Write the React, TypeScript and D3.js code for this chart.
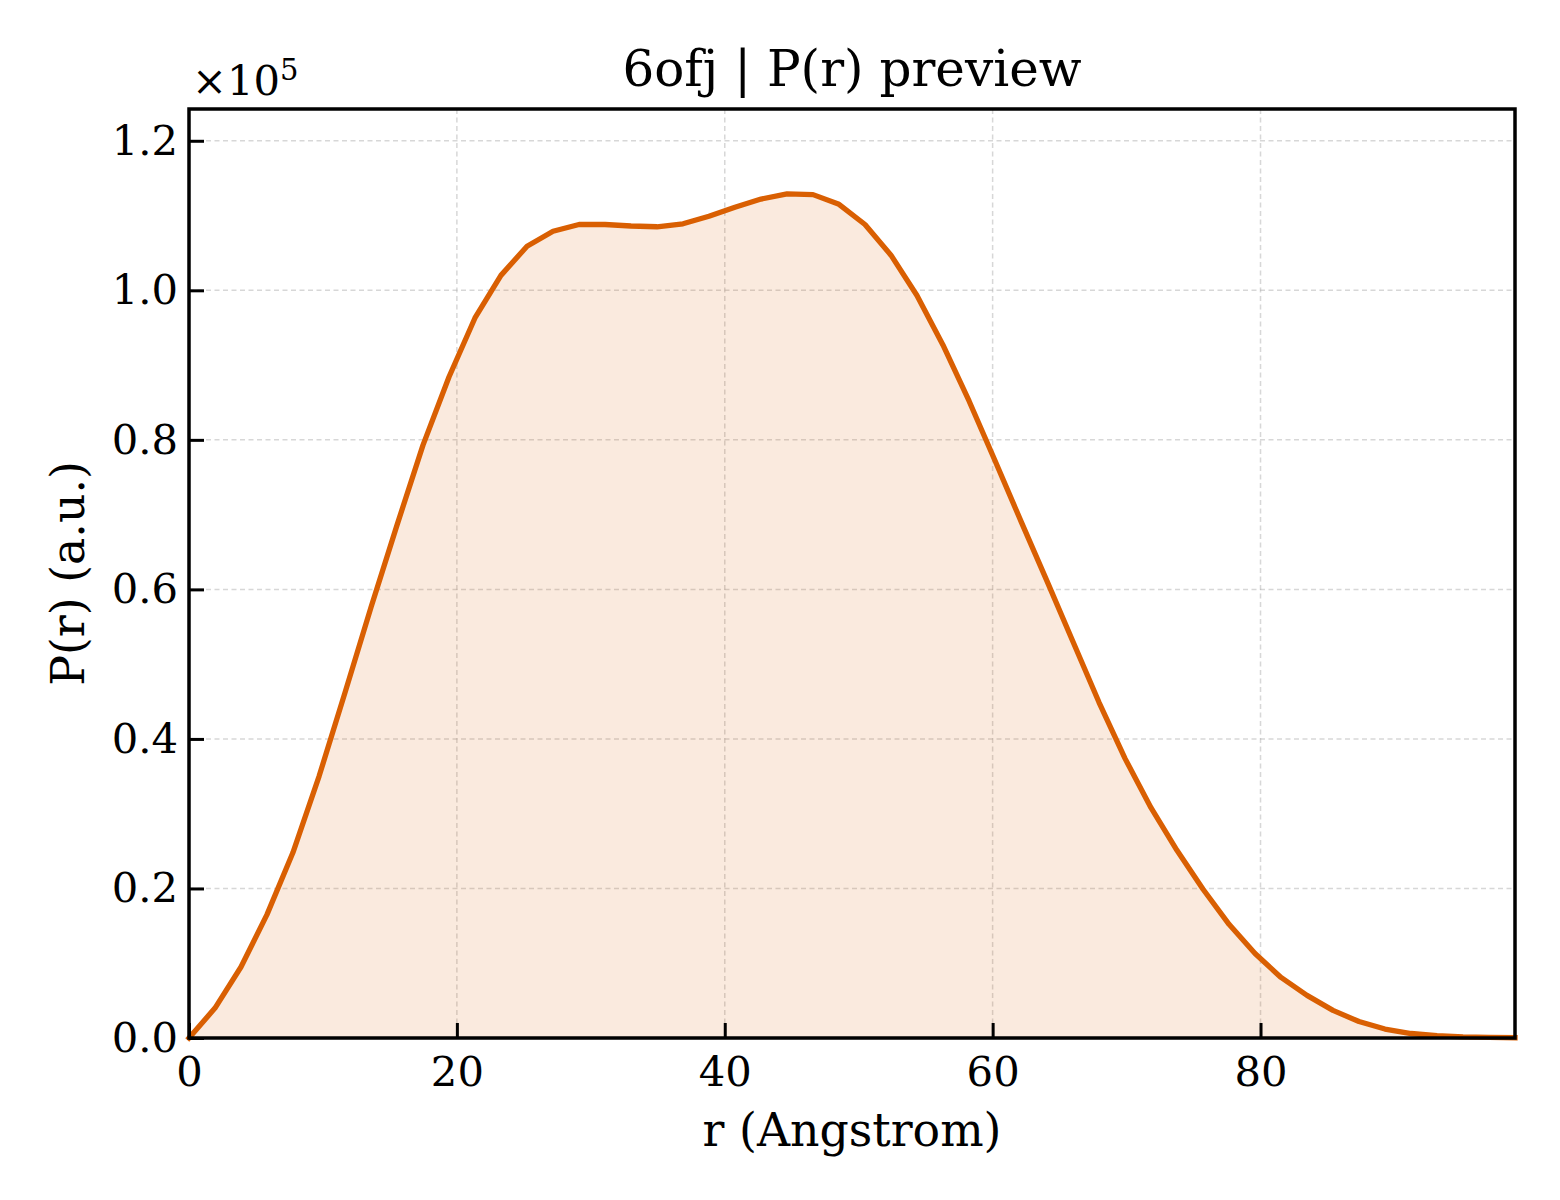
import React, { useEffect, useRef } from 'react';
import * as d3 from 'd3';

// r in Angstrom, P(r) in units of 1e5
const rValues = [
    0, 1.94, 3.88, 5.82, 7.76, 9.71, 11.65, 13.59, 15.53, 17.47,
    19.41, 21.35, 23.29, 25.24, 27.18, 29.12, 31.06, 33.0, 34.94, 36.88,
    38.82, 40.76, 42.71, 44.65, 46.59, 48.53, 50.47, 52.41, 54.35, 56.29,
    58.24, 60.18, 62.12, 64.06, 66.0, 67.94, 69.88, 71.82, 73.76, 75.71,
    77.65, 79.59, 81.53, 83.47, 85.41, 87.35, 89.29, 91.24, 93.18, 95.12,
    97.06, 99.0
];
const prValues = [
    0.0, 0.040, 0.095, 0.165, 0.248, 0.350, 0.462, 0.576, 0.686, 0.793,
    0.884, 0.963, 1.020, 1.059, 1.079, 1.088, 1.088, 1.086, 1.085, 1.089,
    1.099, 1.111, 1.122, 1.129, 1.128, 1.115, 1.088, 1.047, 0.993, 0.927,
    0.852, 0.772, 0.691, 0.611, 0.530, 0.449, 0.374, 0.308, 0.251, 0.199,
    0.152, 0.113, 0.081, 0.057, 0.037, 0.022, 0.012, 0.006, 0.003, 0.0015,
    0.0008, 0.0004
];
const xTicks = [0, 20, 40, 60, 80];
const yTicks = [0, 0.2, 0.4, 0.6, 0.8, 1.0, 1.2];

const titleText = '6ofj | P(r) preview';
const xLabel = 'r (Angstrom)';
const yLabel = 'P(r) (a.u.)';

const FONT = '"DejaVu Serif", serif';
const LINE = '#d95f02';

export default function App() {
    const ref = useRef<SVGSVGElement | null>(null);

    useEffect(() => {
        const width = 1560;
        const height = 1200;
        const margin = { top: 109, right: 45, bottom: 162, left: 189 };
        const w = width - margin.left - margin.right;
        const h = height - margin.top - margin.bottom;

        const svg = d3.select(ref.current);
        svg.selectAll('*').remove();

        const scale_x = d3.scaleLinear().domain([0, 99]).range([0, w]);
        const scale_y = d3.scaleLinear().domain([0, 1.2425]).range([h, 0]);

        const data = rValues.map((r, i) => ({ r, p: prValues[i] }));

        const chart = svg.append('g')
            .attr('transform', `translate(${margin.left}, ${margin.top})`);

        // grid
        chart.append('g')
            .selectAll('line')
            .data(xTicks.filter((d) => d > 0))
            .join('line')
            .attr('x1', (d) => scale_x(d))
            .attr('x2', (d) => scale_x(d))
            .attr('y1', 0)
            .attr('y2', h)
            .attr('stroke', '#b0b0b0')
            .attr('stroke-opacity', 0.5)
            .attr('stroke-width', 1.5)
            .attr('stroke-dasharray', '5,3.5');

        chart.append('g')
            .selectAll('line')
            .data(yTicks.filter((d) => d > 0))
            .join('line')
            .attr('x1', 0)
            .attr('x2', w)
            .attr('y1', (d) => scale_y(d))
            .attr('y2', (d) => scale_y(d))
            .attr('stroke', '#b0b0b0')
            .attr('stroke-opacity', 0.5)
            .attr('stroke-width', 1.5)
            .attr('stroke-dasharray', '5,3.5');

        // filled area + line
        const area = d3.area<{ r: number; p: number }>()
            .x((d) => scale_x(d.r))
            .y0(scale_y(0))
            .y1((d) => scale_y(d.p));

        const line = d3.line<{ r: number; p: number }>()
            .x((d) => scale_x(d.r))
            .y((d) => scale_y(d.p));

        chart.append('path')
            .datum(data)
            .attr('fill', LINE)
            .attr('fill-opacity', 0.13)
            .attr('d', area);

        chart.append('path')
            .datum(data)
            .attr('fill', 'none')
            .attr('stroke', LINE)
            .attr('stroke-width', 5.3)
            .attr('stroke-linejoin', 'round')
            .attr('stroke-linecap', 'square')
            .attr('d', line);

        // axes, ticks pointing in
        const axis_x = d3.axisBottom(scale_x)
            .tickValues(xTicks)
            .tickFormat(d3.format('d'))
            .tickSizeInner(-15)
            .tickSizeOuter(0)
            .tickPadding(18);

        const gx = chart.append('g')
            .attr('transform', `translate(0, ${h})`)
            .call(axis_x);
        gx.select('.domain').remove();
        gx.selectAll('line').attr('stroke', '#000').attr('stroke-width', 3);
        gx.selectAll('text')
            .attr('fill', '#000')
            .style('font-family', FONT)
            .style('font-size', '41.7px');

        const axis_y = d3.axisLeft(scale_y)
            .tickValues(yTicks)
            .tickFormat(d3.format('.1f'))
            .tickSizeInner(-15)
            .tickSizeOuter(0)
            .tickPadding(11);

        const gy = chart.append('g').call(axis_y);
        gy.select('.domain').remove();
        gy.selectAll('line').attr('stroke', '#000').attr('stroke-width', 3);
        gy.selectAll('text')
            .attr('fill', '#000')
            .style('font-family', FONT)
            .style('font-size', '41.7px');

        // frame
        chart.append('rect')
            .attr('x', 0)
            .attr('y', 0)
            .attr('width', w)
            .attr('height', h)
            .attr('fill', 'none')
            .attr('stroke', '#000')
            .attr('stroke-width', 3.5);

        // offset text
        const off = chart.append('text')
            .attr('x', 3)
            .attr('y', -14)
            .style('font-family', FONT)
            .style('font-size', '41.7px');
        off.append('tspan').text('×10');
        off.append('tspan').attr('dy', -15).style('font-size', '29px').text('5');

        // labels
        svg.append('text')
            .attr('x', margin.left + w / 2)
            .attr('y', 86)
            .attr('text-anchor', 'middle')
            .style('font-family', FONT)
            .style('font-size', '50px')
            .text(titleText);

        svg.append('text')
            .attr('x', margin.left + w / 2)
            .attr('y', 1146)
            .attr('text-anchor', 'middle')
            .style('font-family', FONT)
            .style('font-size', '45.8px')
            .text(xLabel);

        svg.append('text')
            .attr('transform', `translate(84, ${margin.top + h / 2}) rotate(-90)`)
            .attr('text-anchor', 'middle')
            .style('font-family', FONT)
            .style('font-size', '45.8px')
            .text(yLabel);
    }, []);

    return (
        <svg
            ref={ref}
            width={1560}
            height={1200}
            style={{ position: 'absolute', left: 0, top: 0, background: '#fff' }}
        />
    );
}
